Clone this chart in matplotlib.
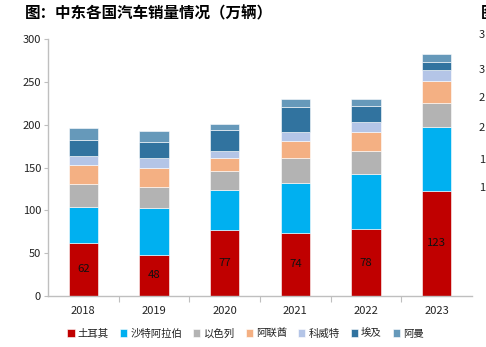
import matplotlib
matplotlib.use("Agg")
import matplotlib.pyplot as plt
import numpy as np

plt.rcParams['font.family'] = ['Noto Sans CJK SC', 'DejaVu Sans']

years = ['2018', '2019', '2020', '2021', '2022', '2023']
countries = ['土耳其', '沙特阿拉伯', '以色列', '阿联酋', '科威特', '埃及', '阿曼']
turkey = [62, 48, 77, 74, 78, 123]
saudi = [42, 54.5, 47, 58, 65, 75]
israel = [27, 25, 22, 29, 26.5, 27]
uae = [22, 22, 15, 20, 22, 26]
kuwait = [11, 11.5, 9, 11, 12, 13.5]
egypt = [18.5, 19, 23.5, 29, 19, 9.5]
oman = [14, 12.5, 8, 9, 8, 9]
series = [turkey, saudi, israel, uae, kuwait, egypt, oman]
colors = ['#C00000', '#00B0F0', '#B3B3B3', '#F4B083', '#B4C5E7', '#31739F', '#6699BA']

# neighbouring (cut-off) chart at the right edge: first visible digits of its ticks
side_ticks = ['3', '3', '2', '2', '1', '1']

fig = plt.figure(figsize=(4.86, 3.47), dpi=100)
ax = fig.add_axes([48/486, 1-296/347, 424/486, (296-39.3)/347])

x = np.arange(len(years))
bottom = np.zeros(len(years))
for name, vals, c in zip(countries, series, colors):
    v = np.array(vals, dtype=float)
    ax.bar(x, v, width=0.415, bottom=bottom, color=c, label=name,
           edgecolor='white', linewidth=0.4)
    bottom += v

for xi, v in zip(x, turkey):
    ax.text(xi, v/2, f'{v:g}', ha='center', va='center', fontsize=8.2, color='#111111')

ax.set_xlim(-0.5, 5.5)
ax.set_ylim(0, 300)
ax.set_yticks(range(0, 301, 50))
ax.tick_params(axis='y', labelsize=8, colors='#bfbfbf', labelcolor='#222222', length=3, width=0.8, pad=2)
ax.set_xticks(x, minor=True)
ax.set_xticklabels(years, minor=True)
ax.set_xticks([0.5, 1.5, 2.5, 3.5, 4.5])
ax.set_xticklabels([])
ax.tick_params(axis='x', which='major', length=4, width=0.8, colors='#bfbfbf')
ax.tick_params(axis='x', which='minor', length=0, labelsize=8, labelcolor='#222222', pad=7)
for s in ['top', 'right']:
    ax.spines[s].set_visible(False)
for s in ['left', 'bottom']:
    ax.spines[s].set_color('#bfbfbf')
    ax.spines[s].set_linewidth(1.0)

leg = ax.legend(loc='upper center', bbox_to_anchor=(0.466, -0.11), ncol=7, frameon=False,
                fontsize=7.5, handlelength=0.7, handleheight=0.7, handletextpad=0.3,
                columnspacing=1.05, borderaxespad=0)
for t in leg.get_texts():
    t.set_color('#222222')

fig.text(25/486, 1-13/347, '图：中东各国汽车销量情况（万辆）', fontsize=11.2, fontweight='bold',
         ha='left', va='center', color='#000000')
fig.text(481/486, 1-13/347, '图', fontsize=11.2, fontweight='bold', ha='left', va='center')
for yy, t in zip([35, 70, 98, 128, 160, 188], side_ticks):
    fig.text(479/486, 1-yy/347, t, fontsize=8, ha='left', va='center', color='#222222')

fig.savefig('out.png', dpi=100)
